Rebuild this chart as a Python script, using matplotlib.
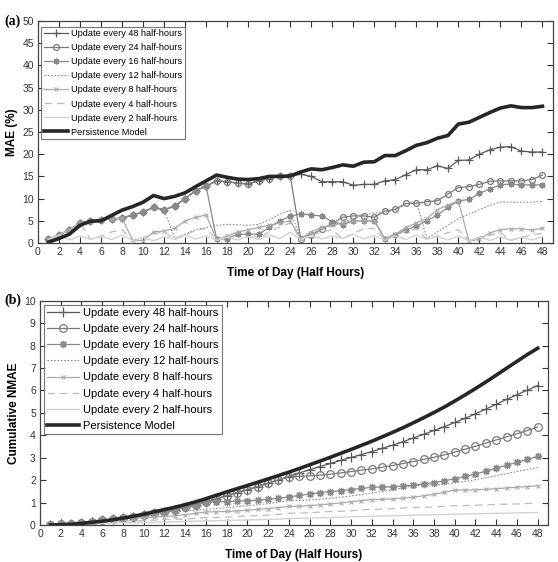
import numpy as np
import matplotlib
matplotlib.use("Agg")
import matplotlib.pyplot as plt

plt.rcParams['font.family'] = ['Liberation Sans', 'DejaVu Sans']

x = list(range(1, 49))
xticks = list(range(0, 49, 2))

labels = ["Update every 48 half-hours", "Update every 24 half-hours",
          "Update every 16 half-hours", "Update every 12 half-hours",
          "Update every 8 half-hours", "Update every 4 half-hours",
          "Update every 2 half-hours", "Persistence Model"]

# ---- (a) MAE (%) ----
mae_persist = [0.2, 1.0, 2.0, 4.0, 4.9, 5.0, 6.2, 7.4, 8.2, 9.2, 10.7, 10.0, 10.5, 11.3, 12.7, 14.0,
               15.3, 14.8, 14.4, 14.3, 14.5, 15.0, 15.0, 15.1, 16.0, 16.7, 16.5, 17.0, 17.6, 17.3, 18.2, 18.3,
               19.7, 19.7, 20.8, 22.0, 22.6, 23.6, 24.2, 26.8, 27.2, 28.3, 29.4, 30.4, 30.9, 30.5, 30.5, 30.8]
mae_48 = [0.8, 1.8, 3.0, 4.5, 5.0, 5.2, 5.4, 5.6, 6.3, 7.0, 8.0, 7.5, 8.3, 10.0, 11.8, 12.8,
          14.0, 13.8, 13.5, 13.3, 14.0, 14.5, 15.0, 15.1, 15.5, 15.0, 13.8, 13.8, 13.8, 13.0, 13.2, 13.2,
          14.0, 14.3, 15.4, 16.5, 16.5, 17.4, 16.8, 18.6, 18.7, 20.0, 21.0, 21.6, 21.7, 20.7, 20.5, 20.5]
mae_24 = [0.8, 1.8, 3.0, 4.5, 5.0, 5.2, 5.4, 5.6, 6.3, 7.0, 8.0, 7.5, 8.3, 10.0, 11.8, 12.8,
          14.0, 13.8, 13.5, 13.3, 14.0, 14.5, 15.0, 15.1, 1.0, 1.8, 3.1, 4.4, 5.8, 6.1, 6.1, 5.8,
          7.2, 7.6, 8.9, 8.9, 9.3, 9.5, 11.0, 12.5, 12.7, 13.2, 13.9, 14.0, 14.0, 14.0, 14.3, 15.3]
mae_16 = [0.8, 1.8, 3.0, 4.5, 5.0, 5.2, 5.4, 5.6, 6.3, 7.0, 8.0, 7.5, 8.3, 10.0, 11.8, 12.8,
          0.8, 1.0, 2.0, 2.0, 2.0, 3.5, 5.0, 6.0, 6.6, 6.3, 6.1, 4.8, 4.1, 5.0, 5.0, 5.0,
          1.0, 1.8, 3.0, 3.8, 5.0, 6.3, 8.0, 9.5, 9.8, 11.2, 12.2, 13.1, 13.3, 13.1, 13.1, 13.1]
mae_12 = [0.8, 1.8, 3.0, 4.5, 5.0, 5.2, 5.4, 5.6, 6.3, 7.0, 8.0, 7.5, 1.0, 2.0, 3.0, 3.5,
          4.0, 4.2, 4.1, 4.0, 4.2, 5.2, 6.5, 7.3, 1.0, 2.0, 3.2, 4.2, 4.8, 5.3, 6.3, 6.8,
          6.9, 7.3, 8.8, 9.3, 1.0, 2.5, 4.0, 5.5, 6.5, 7.5, 8.5, 9.2, 9.2, 9.2, 9.2, 9.4]
mae_8 = [0.8, 1.8, 3.0, 4.5, 5.0, 5.2, 5.4, 5.6, 0.7, 0.5, 2.5, 2.7, 3.3, 5.0, 5.8, 6.3,
         0.8, 1.5, 2.5, 3.0, 3.5, 4.0, 4.5, 5.0, 1.0, 2.5, 3.5, 4.0, 4.5, 5.0, 5.0, 5.0,
         1.0, 2.0, 3.5, 4.5, 5.5, 7.5, 8.5, 9.5, 0.5, 0.8, 2.3, 3.0, 3.2, 3.2, 2.9, 3.3]
mae_4 = [0.8, 1.8, 3.0, 4.5, 0.8, 1.5, 2.5, 3.0, 0.6, 1.2, 2.0, 2.6, 0.8, 1.8, 2.8, 3.3,
         0.7, 1.6, 2.6, 2.8, 0.9, 2.6, 3.6, 4.5, 0.8, 1.8, 2.5, 3.0, 0.9, 2.2, 3.2, 3.3,
         0.8, 1.7, 2.7, 3.2, 0.8, 1.6, 2.3, 3.0, 0.6, 1.3, 1.8, 2.3, 0.6, 1.3, 1.8, 2.2]
mae_2 = [0.8, 1.8, 0.7, 1.6, 0.8, 1.5, 0.8, 1.8, 0.6, 1.2, 0.5, 1.4, 0.8, 1.8, 0.9, 1.6,
         0.6, 1.3, 0.7, 1.5, 0.8, 1.8, 1.0, 2.4, 0.8, 1.7, 0.9, 1.6, 1.0, 2.0, 0.9, 1.7,
         0.6, 1.5, 0.8, 1.8, 0.8, 1.5, 0.7, 1.6, 0.5, 1.3, 0.6, 1.4, 0.6, 1.3, 0.7, 1.4]

# ---- (b) Cumulative NMAE ----
cum_persist = [0.002, 0.012, 0.032, 0.072, 0.121, 0.171, 0.233, 0.307, 0.389, 0.481, 0.588, 0.688,
               0.793, 0.906, 1.033, 1.173, 1.326, 1.474, 1.618, 1.761, 1.906, 2.056, 2.206, 2.357,
               2.517, 2.684, 2.849, 3.019, 3.195, 3.368, 3.550, 3.733, 3.930, 4.127, 4.335, 4.555,
               4.781, 5.017, 5.259, 5.527, 5.799, 6.082, 6.376, 6.680, 6.989, 7.294, 7.599, 7.880]
cum_48 = [0.008, 0.026, 0.056, 0.101, 0.151, 0.203, 0.257, 0.313, 0.376, 0.446, 0.526, 0.601,
          0.684, 0.784, 0.902, 1.030, 1.170, 1.308, 1.443, 1.576, 1.716, 1.861, 2.011, 2.162,
          2.317, 2.467, 2.605, 2.743, 2.881, 3.011, 3.143, 3.275, 3.415, 3.558, 3.712, 3.877,
          4.042, 4.216, 4.384, 4.570, 4.757, 4.957, 5.167, 5.383, 5.600, 5.807, 6.012, 6.217]
cum_24 = [0.008, 0.026, 0.056, 0.101, 0.151, 0.203, 0.257, 0.313, 0.376, 0.446, 0.526, 0.601,
          0.684, 0.784, 0.902, 1.030, 1.170, 1.308, 1.443, 1.576, 1.716, 1.861, 2.011, 2.162,
          2.172, 2.190, 2.221, 2.265, 2.323, 2.384, 2.445, 2.503, 2.575, 2.651, 2.740, 2.829,
          2.922, 3.017, 3.127, 3.252, 3.379, 3.511, 3.650, 3.790, 3.930, 4.070, 4.213, 4.366]
cum_16 = [0.008, 0.026, 0.056, 0.101, 0.151, 0.203, 0.257, 0.313, 0.376, 0.446, 0.526, 0.601,
          0.684, 0.784, 0.902, 1.030, 1.038, 1.048, 1.068, 1.088, 1.108, 1.143, 1.193, 1.253,
          1.319, 1.382, 1.443, 1.491, 1.532, 1.582, 1.632, 1.682, 1.692, 1.710, 1.740, 1.778,
          1.828, 1.891, 1.971, 2.066, 2.164, 2.276, 2.398, 2.529, 2.662, 2.793, 2.924, 3.055]
cum_12 = [0.008, 0.026, 0.056, 0.101, 0.151, 0.203, 0.257, 0.313, 0.376, 0.446, 0.526, 0.601,
          0.611, 0.631, 0.661, 0.696, 0.736, 0.778, 0.819, 0.859, 0.901, 0.953, 1.018, 1.091,
          1.101, 1.121, 1.153, 1.195, 1.243, 1.296, 1.359, 1.427, 1.496, 1.569, 1.657, 1.750,
          1.760, 1.785, 1.825, 1.880, 1.945, 2.020, 2.105, 2.197, 2.289, 2.381, 2.473, 2.567]
cum_8 = [0.008, 0.026, 0.056, 0.101, 0.151, 0.203, 0.257, 0.313, 0.320, 0.325, 0.350, 0.377,
         0.410, 0.460, 0.518, 0.581, 0.589, 0.604, 0.629, 0.659, 0.694, 0.734, 0.779, 0.829,
         0.839, 0.864, 0.899, 0.939, 0.984, 1.034, 1.084, 1.134, 1.144, 1.164, 1.199, 1.244,
         1.299, 1.374, 1.459, 1.554, 1.559, 1.567, 1.590, 1.620, 1.652, 1.684, 1.713, 1.746]
cum_4 = [0.008, 0.026, 0.056, 0.101, 0.109, 0.124, 0.149, 0.179, 0.185, 0.197, 0.217, 0.243,
         0.251, 0.269, 0.297, 0.330, 0.337, 0.353, 0.379, 0.407, 0.416, 0.442, 0.478, 0.523,
         0.531, 0.549, 0.574, 0.604, 0.613, 0.635, 0.667, 0.700, 0.708, 0.725, 0.752, 0.784,
         0.792, 0.808, 0.831, 0.861, 0.867, 0.880, 0.898, 0.921, 0.927, 0.940, 0.958, 0.980]
cum_2 = [0.008, 0.026, 0.033, 0.049, 0.057, 0.072, 0.080, 0.098, 0.104, 0.116, 0.121, 0.135,
         0.143, 0.161, 0.170, 0.186, 0.192, 0.205, 0.212, 0.227, 0.235, 0.253, 0.263, 0.287,
         0.295, 0.312, 0.321, 0.337, 0.347, 0.367, 0.376, 0.393, 0.399, 0.414, 0.422, 0.440,
         0.448, 0.463, 0.470, 0.486, 0.491, 0.504, 0.510, 0.524, 0.530, 0.543, 0.550, 0.564]

AST = (8, 2, 0)
top_styles = [
    dict(color='#5a5a5a', ls='-', marker='+', ms=5.5, mew=0.9, lw=0.9),
    dict(color='#7a7a7a', ls='-', marker='o', ms=4.2, mfc='none', mew=0.9, lw=0.9),
    dict(color='#8a8a8a', ls='-', marker=AST, ms=4.2, mew=1.0, lw=0.9),
    dict(color='#8c8c8c', ls=(0, (1.5, 1.5)), marker=None, lw=0.8),
    dict(color='#aaaaaa', ls='-', marker='x', ms=3, mew=0.8, lw=0.9),
    dict(color='#bdbdbd', ls=(0, (6, 4)), marker=None, lw=0.9),
    dict(color='#d2d2d2', ls='-', marker=None, lw=1.0),
    dict(color='#262626', ls='-', marker=None, lw=2.6),
]
bot_styles = [
    dict(color='#5a5a5a', ls='-', marker='+', ms=7, mew=0.9, lw=0.9),
    dict(color='#7a7a7a', ls='-', marker='o', ms=5.5, mfc='none', mew=0.9, lw=0.9),
    dict(color='#8a8a8a', ls='-', marker=AST, ms=5.2, mew=1.0, lw=0.9),
    dict(color='#8c8c8c', ls=(0, (1.5, 1.5)), marker=None, lw=0.8),
    dict(color='#aaaaaa', ls='-', marker='x', ms=3.5, mew=0.8, lw=0.9),
    dict(color='#bdbdbd', ls=(0, (6, 4)), marker=None, lw=0.9),
    dict(color='#d2d2d2', ls='-', marker=None, lw=1.0),
    dict(color='#262626', ls='-', marker=None, lw=2.6),
]

fig = plt.figure(figsize=(5.58, 5.62), dpi=100)
ax1 = fig.add_axes([0.068, 0.5676, 0.923, 0.395])
ax2 = fig.add_axes([0.0717, 0.0658, 0.9105, 0.3992])

top_series = [mae_48, mae_24, mae_16, mae_12, mae_8, mae_4, mae_2, mae_persist]
bot_series = [cum_48, cum_24, cum_16, cum_12, cum_8, cum_4, cum_2, cum_persist]

for ser, st, lab in zip(top_series, top_styles, labels):
    ax1.plot(x, ser, label=lab, **st)
for ser, st, lab in zip(bot_series, bot_styles, labels):
    ax2.plot(x, ser, label=lab, **st)

for ax, ymax, ylab in [(ax1, 50, "MAE (%)"), (ax2, 10, "Cumulative NMAE")]:
    ax.set_xlim(0, 49)
    ax.set_ylim(0, ymax)
    ax.set_xticks(xticks)
    ax.set_xlabel("Time of Day (Half Hours)", fontsize=8.5, fontweight='bold', labelpad=7)
    ax.set_ylabel(ylab, fontsize=8.5, fontweight='bold', labelpad=3)
    ax.tick_params(direction='in', top=True, right=True, length=4, width=0.8,
                   labelsize=7.5, colors='#333333', pad=3)
    for sp in ax.spines.values():
        sp.set_linewidth(0.9)
        sp.set_color('#444444')

ax1.set_yticks(range(0, 51, 5))
ax2.set_yticks(range(0, 11, 1))

leg1 = ax1.legend(loc='upper left', bbox_to_anchor=(0.006, 0.975), fontsize=6.6,
                  frameon=True, fancybox=False, edgecolor='#555555', handlelength=2.6,
                  borderpad=0.3, labelspacing=0.55, handletextpad=0.4, borderaxespad=0)
leg1.get_frame().set_linewidth(0.8)
leg2 = ax2.legend(loc='upper left', bbox_to_anchor=(0.008, 0.982), fontsize=8.0,
                  frameon=True, fancybox=False, edgecolor='#555555', handlelength=2.8,
                  borderpad=0.3, labelspacing=0.55, handletextpad=0.4, borderaxespad=0)
leg2.get_frame().set_linewidth(0.8)

fig.text(0.008, 0.962, "(a)", fontsize=10, fontweight='bold',
         family=['Liberation Serif', 'DejaVu Serif'], va='center')
fig.text(0.008, 0.466, "(b)", fontsize=10, fontweight='bold',
         family=['Liberation Serif', 'DejaVu Serif'], va='center')

fig.savefig("out.png", dpi=100)
